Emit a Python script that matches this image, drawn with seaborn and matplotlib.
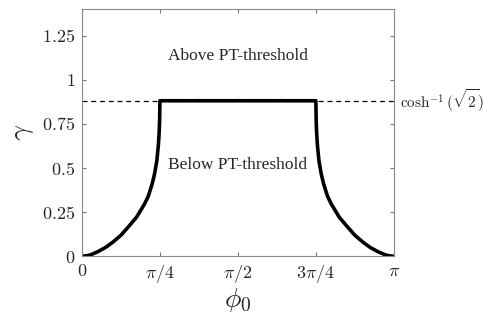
import numpy as np
import pandas as pd
import matplotlib
matplotlib.use("Agg")
import matplotlib.pyplot as plt
import seaborn as sns

# phi0 in units of pi, gamma
phi_left = [0.0, 0.025, 0.05, 0.075, 0.1, 0.125, 0.15, 0.175, 0.2, 0.2125,
            0.225, 0.2325, 0.24, 0.245, 0.2475, 0.249, 0.25]
gamma_left = [0.0, 0.007, 0.026, 0.05, 0.082, 0.12, 0.17, 0.222, 0.295, 0.34,
              0.41, 0.465, 0.54, 0.63, 0.70, 0.77, 0.8814]
phi_plateau = [0.25, 0.75]
gamma_plateau = [0.8814, 0.8814]
phi_right = [0.75, 0.751, 0.7525, 0.755, 0.76, 0.7675, 0.775, 0.7875, 0.8,
             0.825, 0.85, 0.875, 0.9, 0.925, 0.95, 0.975, 1.0]
gamma_right = [0.8814, 0.77, 0.70, 0.63, 0.54, 0.465, 0.41, 0.34, 0.295,
               0.222, 0.17, 0.12, 0.082, 0.05, 0.026, 0.007, 0.0]
threshold = 0.8814

x_ticks = [0, 0.25, 0.5, 0.75, 1.0]
x_labels = [r"$0$", r"$\pi/4$", r"$\pi/2$", r"$3\pi/4$", r"$\pi$"]
y_ticks = [0, 0.25, 0.5, 0.75, 1, 1.25]
y_labels = [r"$0$", r"$0.25$", r"$0.5$", r"$0.75$", r"$1$", r"$1.25$"]

df = pd.DataFrame({
    "phi": np.concatenate([phi_left, phi_plateau[1:], phi_right[1:]]) * np.pi,
    "gamma": np.concatenate([gamma_left, gamma_plateau[1:], gamma_right[1:]]),
})

sns.set_style("ticks")
plt.rcParams["font.family"] = ["Liberation Serif", "DejaVu Serif"]
plt.rcParams["mathtext.fontset"] = "cm"

fig = plt.figure(figsize=(4.85, 3.15), dpi=100)
ax = fig.add_axes([0.169, 0.186, 0.643, 0.785])

ax.axhline(threshold, color="black", lw=0.9, ls=(0, (4, 3)))
sns.lineplot(data=df, x="phi", y="gamma", color="black", lw=2.6, sort=False,
             ax=ax, estimator=None)

ax.set_xlim(0, np.pi)
ax.set_ylim(0, 1.4)
ax.set_xticks(np.array(x_ticks) * np.pi)
ax.set_xticklabels(x_labels, fontsize=13)
ax.set_yticks(y_ticks)
ax.set_yticklabels(y_labels, fontsize=13)
ax.tick_params(direction="in", top=True, right=True, length=3, color="#777777",
               pad=5)
for s in ax.spines.values():
    s.set_color("#888888")
    s.set_linewidth(0.8)

ax.set_xlabel(r"$\phi_0$", fontsize=20, labelpad=1)
ax.set_ylabel(r"$\gamma$", fontsize=20, labelpad=4)

ax.text(np.pi / 2, 1.135, "Above PT-threshold", ha="center", va="center",
        fontsize=12.5)
ax.text(np.pi / 2, 0.515, "Below PT-threshold", ha="center", va="center",
        fontsize=12.5)
ax.text(1.02, threshold, r"$\cosh^{-1}(\sqrt{2})$", transform=ax.get_yaxis_transform(),
        ha="left", va="center", fontsize=11)

fig.savefig("out.png", dpi=100)
